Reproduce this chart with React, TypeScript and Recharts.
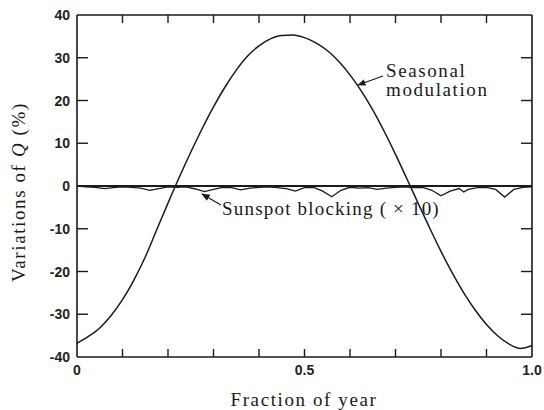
import React from "react";
import {
    ComposedChart,
    Line,
    XAxis,
    YAxis,
    ReferenceLine,
} from "recharts";

// seasonal modulation of Q (%)
const seasonX = [0, 0.025, 0.05, 0.075, 0.1, 0.125, 0.15, 0.175, 0.2, 0.225, 0.25, 0.275, 0.3, 0.325, 0.35, 0.375, 0.4, 0.425, 0.45, 0.475, 0.5, 0.525, 0.55, 0.575, 0.6, 0.625, 0.65, 0.675, 0.7, 0.725, 0.75, 0.775, 0.8, 0.825, 0.85, 0.875, 0.9, 0.925, 0.95, 0.975, 1.0];
const seasonQ = [-36.8, -35.2, -33.2, -30.3, -26.6, -22.0, -16.6, -10.3, -4.0, 2.1, 7.9, 13.4, 18.5, 23.1, 27.1, 30.4, 32.8, 34.4, 35.2, 35.3, 34.7, 33.5, 31.7, 29.2, 26.0, 22.2, 17.8, 12.8, 7.4, 1.7, -4.1, -9.8, -15.3, -20.4, -25.0, -29.0, -32.4, -35.1, -37.0, -38.0, -37.3];

// sunspot blocking (x10)
const sunX = [0, 0.02, 0.04, 0.06, 0.08, 0.1, 0.12, 0.14, 0.16, 0.18, 0.2, 0.22, 0.24, 0.26, 0.28, 0.3, 0.32, 0.34, 0.36, 0.38, 0.4, 0.42, 0.44, 0.46, 0.48, 0.5, 0.52, 0.54, 0.56, 0.58, 0.6, 0.62, 0.64, 0.66, 0.68, 0.7, 0.72, 0.74, 0.76, 0.78, 0.8, 0.82, 0.84, 0.85, 0.86, 0.88, 0.9, 0.92, 0.94, 0.96, 0.98, 1.0];
const sunQ = [0, -0.2, -0.3, -0.6, -0.4, -0.2, -0.3, -0.5, -1.0, -0.6, -0.2, -0.3, -0.2, -0.7, -1.3, -0.8, -0.3, -0.4, -0.9, -0.5, -0.3, -0.2, -0.4, -0.6, -1.2, -0.4, -0.3, -1.2, -2.5, -1.0, -0.3, -0.5, -0.4, -0.8, -0.5, -0.3, -0.2, -0.4, -0.3, -1.0, -2.3, -1.2, -0.6, -1.4, -0.8, -0.4, -0.3, -0.8, -2.6, -0.8, -0.3, -0.2];

const xTicks = [0, 0.1, 0.2, 0.3, 0.4, 0.5, 0.6, 0.7, 0.8, 0.9, 1.0];
const xLabels: Record<string, string> = { "0": "0", "0.5": "0.5", "1": "1.0" };
const yTicks = [-40, -30, -20, -10, 0, 10, 20, 30, 40];

const seasonData = seasonX.map((x, i) => ({ x, q: seasonQ[i] }));
const sunData = sunX.map((x, i) => ({ x, q: sunQ[i] }));

const ink = "#1a1a1a";
const serif = "'Liberation Serif', 'DejaVu Serif', serif";
const sans = "'Liberation Sans', Arial, sans-serif";

const W = 544, H = 410;
const M_TOP = 14, TOP_H = 1, BOT_H = 53, LEFT_W = 77, RIGHT_W = 12;
const PW = W - LEFT_W - RIGHT_W; // plot width
const PH = H - M_TOP - TOP_H - BOT_H; // plot height
const TL = 8;   // x tick length, pointing into the frame
const TLY = 11; // y tick length

// with tickSize=0 and tickMargin=0 the tick x/y sit on the axis line;
// the mirrored ticks on the top/right frame are drawn from here too
const BottomTick = (props: any) => {
    const x = Number(props.x);
    const y = Number(props.y);
    const v = props.payload.value;
    const lab = xLabels[String(v)];
    const inner = v > 0 && v < 1;
    return (
        <g>
            {inner && <line x1={x} y1={y} x2={x} y2={y - TL} stroke={ink} strokeWidth={1.4} />}
            {inner && <line x1={x} y1={y - PH} x2={x} y2={y - PH + TL} stroke={ink} strokeWidth={1.4} />}
            {lab && (
                <text x={x} y={y + 18} textAnchor="middle" fontFamily={sans} fontWeight="bold" fontSize={14} fill="#222">
                    {lab}
                </text>
            )}
        </g>
    );
};

const LeftTick = (props: any) => {
    const x = Number(props.x);
    const y = Number(props.y);
    const v = props.payload.value;
    const inner = v > -40 && v < 40;
    return (
        <g>
            {inner && <line x1={x} y1={y} x2={x + TLY} y2={y} stroke={ink} strokeWidth={1.4} />}
            {inner && <line x1={x + PW} y1={y} x2={x + PW - TLY} y2={y} stroke={ink} strokeWidth={1.4} />}
            <text x={x - 7} y={y + 5} textAnchor="end" fontFamily={sans} fontWeight="bold" fontSize={14} fill="#222">
                {v}
            </text>
        </g>
    );
};

const axisLine = { stroke: ink, strokeWidth: 1.6 };

export default function App() {
    return (
        <div style={{ position: "absolute", left: 0, top: 0, width: W, height: H, background: "#fff" }}>
            <svg width={W} height={H} style={{ position: "absolute", left: 0, top: 0 }}>
                <defs>
                    <marker id="arr" viewBox="0 0 10 10" refX="9" refY="5" markerWidth="7" markerHeight="7" orient="auto">
                        <path d="M0,1 L10,5 L0,9 z" fill={ink} />
                    </marker>
                </defs>
                <line x1={383} y1={76} x2={358} y2={85} stroke={ink} strokeWidth={1.2} markerEnd="url(#arr)" />
                <text x={386} y={77} fontFamily={serif} fontSize={19} letterSpacing={1.6} fill={ink}>Seasonal</text>
                <text x={386} y={96} fontFamily={serif} fontSize={19} letterSpacing={1.6} fill={ink}>modulation</text>
                <line x1={221} y1={205} x2={202} y2={194} stroke={ink} strokeWidth={1.2} markerEnd="url(#arr)" />
                <text x={222} y={215} fontFamily={serif} fontSize={19} letterSpacing={1.2} fill={ink}>Sunspot blocking ( × 10)</text>
                <text x={304} y={406} textAnchor="middle" fontFamily={serif} fontSize={19} letterSpacing={1.6} fill={ink}>Fraction of year</text>
                <text
                    transform="translate(25,192) rotate(-90)"
                    textAnchor="middle"
                    fontFamily={serif}
                    fontSize={19}
                    letterSpacing={1.6}
                    fill={ink}
                >
                    Variations of <tspan fontStyle="italic">Q</tspan> (%)
                </text>
            </svg>
            <ComposedChart
                width={W}
                height={H}
                margin={{ top: M_TOP, right: 0, bottom: 0, left: 0 }}
            >
                <XAxis
                    dataKey="x"
                    type="number"
                    domain={[0, 1]}
                    ticks={xTicks}
                    tickSize={0}
                    tickMargin={0}
                    tickLine={false}
                    tick={<BottomTick />}
                    height={BOT_H}
                    axisLine={axisLine}
                />
                <XAxis
                    xAxisId="top"
                    orientation="top"
                    dataKey="x"
                    type="number"
                    domain={[0, 1]}
                    tick={false}
                    tickLine={false}
                    height={TOP_H}
                    axisLine={axisLine}
                />
                <YAxis
                    type="number"
                    domain={[-40, 40]}
                    ticks={yTicks}
                    tickSize={0}
                    tickMargin={0}
                    tickLine={false}
                    tick={<LeftTick />}
                    width={LEFT_W}
                    axisLine={axisLine}
                />
                <YAxis
                    yAxisId="right"
                    orientation="right"
                    type="number"
                    domain={[-40, 40]}
                    tick={false}
                    tickLine={false}
                    width={RIGHT_W}
                    axisLine={axisLine}
                />
                <ReferenceLine y={0} stroke={ink} strokeWidth={2} />
                <Line
                    data={sunData}
                    dataKey="q"
                    type="linear"
                    stroke={ink}
                    strokeWidth={1.3}
                    dot={false}
                    isAnimationActive={false}
                />
                <Line
                    data={seasonData}
                    dataKey="q"
                    type="monotone"
                    stroke={ink}
                    strokeWidth={1.5}
                    dot={false}
                    isAnimationActive={false}
                />
            </ComposedChart>
        </div>
    );
}
